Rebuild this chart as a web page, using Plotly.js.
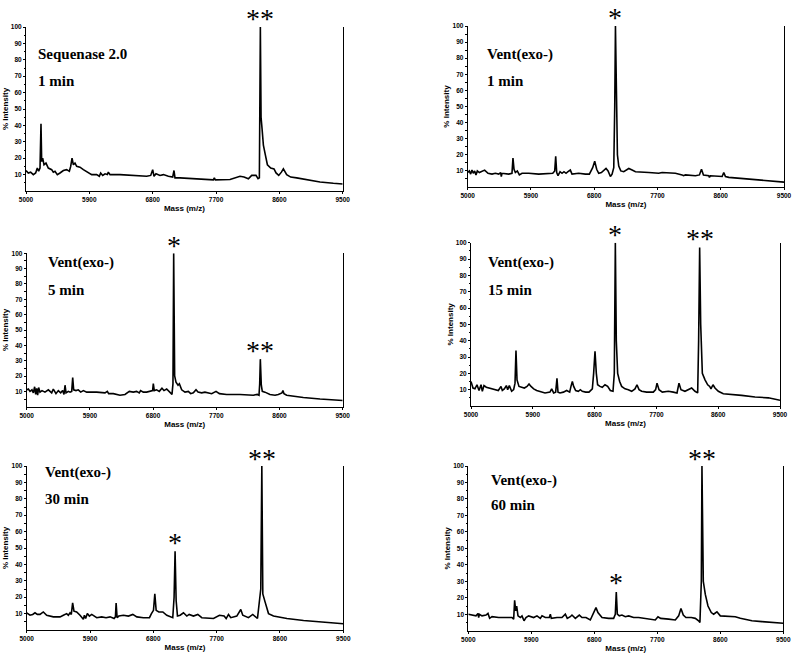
<!DOCTYPE html>
<html><head><meta charset="utf-8">
<script src="https://cdn.plot.ly/plotly-3.0.1.min.js"></script>
<style>html,body{margin:0;padding:0;background:#fff}#chart{width:800px;height:657px}</style>
</head><body><div id="chart"></div>
<script>
// ---------- DATA ----------
const massTicks = [5000, 5900, 6800, 7700, 8600, 9500];
const intensityTicks = [10, 20, 30, 40, 50, 60, 70, 80, 90, 100];

const panelEnzymes = ["Sequenase 2.0", "Vent(exo-)", "Vent(exo-)", "Vent(exo-)", "Vent(exo-)", "Vent(exo-)"];
const panelTimes = ["1 min", "1 min", "5 min", "15 min", "30 min", "60 min"];

// Panel 1: Sequenase 2.0, 1 min
const p1Mass = [5000,5033,5066,5104,5137,5161,5180,5199,5213,5223,5237,5256,5284,5317,5365,5388,5412,5445,5483,5531,5578,5616,5635,5654,5673,5696,5720,5767,5815,5886,5933,6004,6042,6061,6090,6123,6156,6170,6194,6336,6525,6715,6772,6800,6819,6847,6904,6952,7023,7084,7103,7117,7188,7378,7567,7662,7676,7690,7899,7970,8041,8098,8160,8207,8268,8297,8316,8330,8340,8354,8373,8401,8430,8477,8524,8553,8591,8629,8657,8704,8761,8846,8917,8989,9178,9367,9500];
const p1Int  = [12.5,11,11.5,10,11,14,12,14,41,18,20,16,17,14,13,11.5,12,10,11,12.5,13,12,15,20,16,17,15,14.5,13,11,10,10,9,11,9.5,10.5,10,11.5,10,10,9.5,9,9.5,13,9,10.5,9.5,10,9,8.5,12.5,8,8,7.5,7,6.8,8,6.8,7,8,9,8.5,7.5,9.5,9.5,7.5,8,100,45,38,28,22,16,14,13.5,11,9.5,11.5,13.5,10,8.5,8,7.5,6.8,5.5,4.7,4.3];

// Panel 2: Vent(exo-), 1 min
const p2Mass = [5000,5023,5042,5061,5080,5099,5118,5137,5166,5203,5241,5289,5346,5393,5441,5469,5478,5488,5583,5630,5644,5659,5678,5706,5735,5773,5868,6010,6153,6210,6238,6252,6266,6285,6314,6342,6370,6399,6427,6460,6484,6579,6674,6731,6778,6807,6835,6864,6902,6940,6968,6997,7030,7054,7078,7092,7102,7116,7130,7149,7178,7220,7254,7292,7339,7387,7576,7718,7766,7955,8050,8069,8098,8240,8297,8326,8354,8430,8439,8454,8620,8643,8667,8715,9500];
const p2Int  = [9,10,8,10.5,8.5,10,7.5,10,9,10,10.5,8.5,8,8.5,8,9,6.5,8.5,8,8.5,18,11,9,10,7.5,8.5,8.5,8,8.5,8.5,10,19,9,7,9.5,8.5,9.5,8.5,9.5,10.5,8,8.5,8,8,12,16,11,8.5,9,10.5,11.5,10,6.5,8,12,50,100,60,20,13,10,9.5,10.5,11.5,10.5,9.5,9,8.5,9,8.5,7.5,7,7.5,7,7.5,11,7.5,7,6,7,6.5,9,6.5,6,3];

// Panel 3: Vent(exo-), 5 min
const p3Mass = [5000,5024,5047,5075,5095,5113,5128,5142,5156,5170,5189,5218,5260,5308,5356,5379,5417,5450,5484,5512,5531,5546,5560,5593,5617,5641,5655,5669,5702,5735,5769,5807,5854,5996,6115,6148,6167,6234,6328,6400,6461,6518,6565,6603,6622,6660,6708,6765,6793,6803,6817,6850,6888,6926,6955,6993,7040,7069,7083,7093,7107,7126,7155,7174,7207,7254,7302,7335,7373,7411,7440,7492,7539,7587,7634,7696,7744,7847,8037,8227,8284,8308,8318,8327,8341,8355,8393,8464,8536,8583,8635,8649,8664,8702,8939,9177,9500];
const p3Int  = [11,11.5,10,11,9,13,8,12,7.5,12.5,9.5,10.5,9.5,11,9,11.5,8.5,10.5,9,10.5,8,14,9,10,9.5,10,19,11,10.5,11,9.5,10.5,9.5,9.5,9,10,8.5,8.5,7.5,8,10,9.5,10,9,10.5,9.5,9.5,10,10.5,15,10.5,11,10,12,10.5,11.5,9,8,15,100,20,16,14,15,11,9.5,10,8.5,9,11,9.5,9,9.5,9,8.5,10,8.5,8,8,7.5,8,7.5,15,31,14,10,9.5,8,7.5,8,9,10.5,8.5,7.5,6,5,4];

// Panel 4: Vent(exo-), 15 min
const p4Mass = [5000,5029,5058,5087,5117,5146,5165,5189,5223,5277,5349,5398,5437,5456,5485,5515,5534,5558,5592,5621,5641,5655,5670,5699,5738,5777,5816,5845,5874,5913,5956,6019,6078,6150,6175,6204,6233,6252,6267,6296,6345,6393,6437,6456,6476,6495,6524,6563,6592,6621,6670,6718,6767,6786,6806,6825,6844,6878,6912,6951,6990,7029,7068,7087,7102,7116,7136,7165,7194,7243,7291,7340,7388,7417,7447,7485,7558,7655,7689,7709,7738,7786,7874,7947,8000,8029,8058,8116,8174,8213,8262,8301,8315,8330,8345,8369,8408,8447,8476,8495,8524,8553,8602,8674,8941,9136,9330,9500];
const p4Int  = [15,11,10.5,13,9.5,13,9,12.5,11.5,11,10,9.5,12,9.5,10.5,12.5,10,12.5,9,10,14,34,16,12,11.5,11,12,13.5,12,10.5,9.5,8.5,8,8.5,10.5,8,8.5,17,8.5,8,8.5,9.5,8.5,12,15,12,9.5,9,10,9,8.5,8.5,10.5,20,33.5,20,13,12,11.5,13,12,9.5,9,20,100,40,20,15,12,10.5,10,9,10.5,13,10,9,8.5,8.5,10,14,10,8.5,9,8.5,8,14,10,9,10,11,9,8,40,97,50,20,16,13,12,10.5,13,11,9,7.5,6.5,5.5,5,3.5];

// Panel 5: Vent(exo-), 30 min
const p5Mass = [5000,5047,5085,5118,5151,5189,5236,5284,5379,5474,5521,5568,5592,5616,5634,5653,5672,5710,5758,5786,5805,5820,5838,5862,5891,5924,5995,6066,6128,6185,6242,6261,6271,6285,6309,6375,6446,6508,6565,6659,6745,6773,6802,6821,6840,6878,6935,6991,7048,7076,7095,7109,7124,7143,7181,7228,7276,7309,7370,7432,7489,7655,7740,7806,7835,7868,7901,7986,8043,8071,8152,8213,8280,8327,8342,8356,8389,8437,8508,8698,8935,9172,9500];
const p5Int  = [10.5,9,9.5,10.5,9.5,9.5,11,9,8,8,9,10,9,10.5,9.5,16.5,11.5,11,9,7.5,6.5,9,7,10,8.5,9.5,7.5,8,7.5,8,7,8,16.5,7.5,8.5,9,8.5,9.5,8,7.5,7.5,10,12,22,12,11,11,9,8,7.5,20,48,18,8.5,9,10.5,8.5,9.5,8.5,9.5,7.5,7,9,8.5,7,9.5,7.5,8.5,12.5,9,7.5,9.5,7,25,100,22,17,10,8.5,7,5.8,5,3.8];

// Panel 6: Vent(exo-), 60 min
const p6Mass = [5000,5053,5110,5139,5148,5158,5196,5253,5281,5305,5339,5434,5529,5624,5648,5662,5677,5691,5710,5743,5767,5796,5824,5862,5934,5981,6029,6053,6100,6157,6172,6186,6267,6338,6386,6414,6457,6481,6529,6586,6624,6681,6743,6776,6805,6824,6852,6910,7005,7076,7100,7114,7129,7157,7195,7243,7291,7362,7433,7576,7671,7710,7748,7862,7957,8005,8038,8071,8109,8186,8243,8290,8309,8329,8338,8357,8386,8424,8471,8505,8552,8600,8719,8814,8886,8957,9052,9195,9500];
const p6Int  = [10,9.5,9,10.5,8,10,9,9.5,10.5,7.5,8.5,8,8,8,7,18.5,12,15,9,8,9,6,8,9,8,9,7.5,9,8,8,10,7.5,8,8,10,7.5,8.5,9.5,7.5,9.5,8,8,6.5,10,12,14,11,8,7.5,7.5,10,23.5,10,9,9.5,8.5,9,8,8,7,6.5,8.5,7.5,7,6.5,9,13.5,9.5,8,8,7.5,6,5,30,100,30,22,15,11,10,11.5,9,8.5,8.5,7.5,7,6,5.5,4.5];

// Marked peaks (asterisks): mass of peak and label
const starMass  = [[8330], [7102], [7093, 8327], [7102, 8330], [8342, 7109], [8338, 7114]];
const starLabel = [["**"], ["*"], ["*", "**"], ["*", "**"], ["**", "*"], ["**", "*"]];

// ---------- LAYOUT (pixel boxes: left, right, top, bottom) ----------
const W = 800, H = 657;
const boxes = [[26, 342.7, 27, 191], [467.7, 784, 26, 187], [26.7, 342.7, 253.3, 406.7],
               [471, 780, 242.7, 406], [26.7, 343.3, 466, 630], [468.3, 783.3, 466, 630.7]];
const labelPos = [[36, 54, 81], [485, 54, 81], [46, 262.7, 290], [486, 262.7, 290], [42.7, 472, 499], [488.7, 480, 505]];
const starY = [[14], [12.7], [240, 345], [229.3, 233], [453.3, 537.3], [453.3, 577.7]];

const masses = [p1Mass, p2Mass, p3Mass, p4Mass, p5Mass, p6Mass];
const ints = [p1Int, p2Int, p3Int, p4Int, p5Int, p6Int];

const SANS = '"Liberation Sans", Arial, sans-serif';
const SERIF = '"Liberation Serif", "Times New Roman", Times, serif';
const tickFont = {family: SANS, size: 6.5, color: "#000", weight: "bold"};
const titleFont = {family: SANS, size: 8, color: "#000", weight: "bold"};
const lblFont = {family: SERIF, size: 15, color: "#000", weight: "bold"};
const starFont = {family: SERIF, size: 28, color: "#000"};

const traces = [];
const layout = {
  width: W, height: H, margin: {l: 0, r: 0, t: 0, b: 0},
  paper_bgcolor: "#fff", plot_bgcolor: "#fff", showlegend: false,
  annotations: []
};

for (let i = 0; i < 6; i++) {
  const n = i + 1, sfx = n === 1 ? "" : String(n);
  const [l, r, t, b] = boxes[i];
  traces.push({
    x: masses[i], y: ints[i], type: "scatter", mode: "lines",
    xaxis: "x" + sfx, yaxis: "y" + sfx,
    line: {color: "#000", width: 1.6}, hoverinfo: "x+y"
  });
  layout["xaxis" + sfx] = {
    domain: [l / W, r / W], anchor: "y" + sfx, range: [5000, 9500],
    tickmode: "array", tickvals: massTicks, ticktext: massTicks.map(String),
    showline: true, linecolor: "#000", linewidth: 1, ticks: "outside", ticklen: 2, tickcolor: "#000",
    showgrid: false, zeroline: false, tickfont: tickFont, fixedrange: true,
    title: {text: "Mass (m/z)", font: titleFont, standoff: 3}
  };
  layout["yaxis" + sfx] = {
    domain: [1 - b / H, 1 - t / H], anchor: "x" + sfx, range: [0, 100],
    tickmode: "array", tickvals: intensityTicks, ticktext: intensityTicks.map(String),
    showline: true, mirror: true, linecolor: "#000", linewidth: 1, ticks: "outside", ticklen: 2, tickcolor: "#000",
    minor: {tickvals: [5,15,25,35,45,55,65,75,85,95], ticklen: 1.5, ticks: "outside", tickcolor: "#000"},
    showgrid: false, zeroline: false, tickfont: tickFont, fixedrange: true,
    title: {text: "% Intensity", font: titleFont, standoff: 1}
  };
  const [lx, ly1, ly2] = labelPos[i];
  layout.annotations.push({xref: "paper", yref: "paper", x: lx / W, y: 1 - ly1 / H, xanchor: "left", yanchor: "middle",
    text: panelEnzymes[i], showarrow: false, font: lblFont});
  layout.annotations.push({xref: "paper", yref: "paper", x: lx / W, y: 1 - ly2 / H, xanchor: "left", yanchor: "middle",
    text: panelTimes[i], showarrow: false, font: lblFont});
  for (let k = 0; k < starMass[i].length; k++) {
    layout.annotations.push({xref: "x" + sfx, yref: "paper", x: starMass[i][k], y: 1 - (starY[i][k] + 5) / H,
      xanchor: "center", yanchor: "middle", text: starLabel[i][k], showarrow: false, font: starFont});
  }
}

Plotly.newPlot("chart", traces, layout, {displayModeBar: false, staticPlot: true});
</script>
</body></html>
